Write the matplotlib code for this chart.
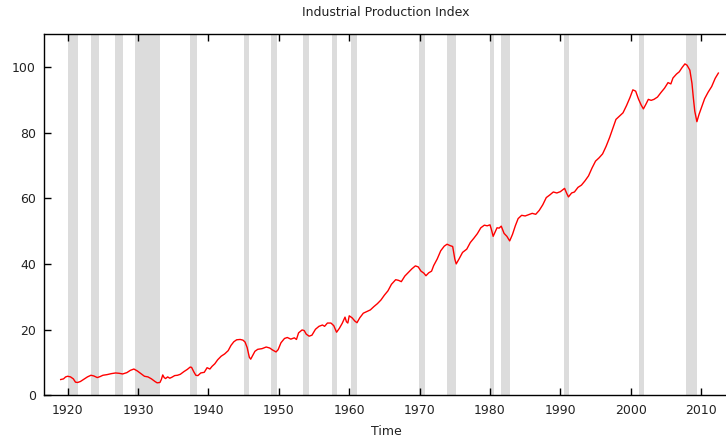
#!/usr/bin/env python3
#
# Industrial Production Index with recession bands

from matplotlib import pyplot as plt

# index values (2007 = 100)
jaar = [1919.0, 1919.4, 1919.7, 1920.0, 1920.4, 1920.8, 1921.1, 1921.4, 1921.8, 1922.3,
        1922.8, 1923.3, 1923.7, 1924.2, 1924.6, 1925.0, 1925.6, 1926.2, 1926.8, 1927.3,
        1927.8, 1928.4, 1928.9, 1929.4, 1929.9, 1930.4, 1930.9, 1931.4, 1931.9, 1932.4,
        1932.7, 1933.1, 1933.3, 1933.5, 1933.7, 1933.9, 1934.2, 1934.5, 1934.8, 1935.2,
        1935.6, 1936.0, 1936.5, 1937.0, 1937.4, 1937.6, 1937.9, 1938.2, 1938.5, 1938.9,
        1939.4, 1939.8, 1940.2, 1940.5, 1940.9, 1941.3, 1941.8, 1942.3, 1942.8, 1943.2,
        1943.6, 1944.0, 1944.5, 1944.9, 1945.2, 1945.5, 1945.8, 1946.0, 1946.2, 1946.6,
        1947.0, 1947.6, 1948.2, 1948.7, 1949.1, 1949.6, 1949.9, 1950.3, 1950.8, 1951.2,
        1951.7, 1952.2, 1952.5, 1952.8, 1953.3, 1953.6, 1953.9, 1954.3, 1954.7, 1955.2,
        1955.7, 1956.2, 1956.5, 1956.9, 1957.4, 1957.8, 1958.2, 1958.6, 1959.0, 1959.4,
        1959.6, 1959.8, 1960.0, 1960.4, 1960.8, 1961.1, 1961.5, 1962.0, 1962.5, 1963.0,
        1963.5, 1964.0, 1964.5, 1965.0, 1965.5, 1966.0, 1966.6, 1967.0, 1967.4, 1967.9,
        1968.4, 1968.9, 1969.4, 1969.8, 1970.2, 1970.6, 1970.9, 1971.3, 1971.7, 1972.0,
        1972.5, 1973.0, 1973.5, 1973.9, 1974.3, 1974.7, 1975.0, 1975.2, 1975.6, 1976.1,
        1976.7, 1977.2, 1977.7, 1978.2, 1978.7, 1979.2, 1979.6, 1980.0, 1980.2, 1980.45,
        1980.7, 1981.0, 1981.3, 1981.6, 1982.0, 1982.4, 1982.8, 1983.2, 1983.6, 1984.0,
        1984.5, 1985.0, 1985.5, 1986.0, 1986.5, 1987.0, 1987.5, 1988.0, 1988.5, 1989.0,
        1989.5, 1990.0, 1990.6, 1990.9, 1991.15, 1991.6, 1992.0, 1992.5, 1993.0, 1993.5,
        1994.0, 1994.5, 1995.0, 1995.5, 1996.0, 1996.5, 1997.0, 1997.5, 1997.9, 1998.4,
        1998.9, 1999.4, 1999.9, 2000.3, 2000.7, 2001.1, 2001.5, 2001.8, 2002.2, 2002.5,
        2002.9, 2003.3, 2003.8, 2004.3, 2004.8, 2005.3, 2005.7, 2006.0, 2006.5, 2006.9,
        2007.3, 2007.7, 2008.0, 2008.4, 2008.7, 2008.9, 2009.1, 2009.4, 2009.7, 2010.0,
        2010.5, 2011.0, 2011.5, 2012.0, 2012.45]

index = [4.8, 5.0, 5.6, 5.8, 5.6, 5.0, 4.0, 3.9, 4.2, 4.9,
         5.6, 6.1, 5.9, 5.4, 5.7, 6.1, 6.3, 6.6, 6.8, 6.7,
         6.5, 6.9, 7.6, 8.0, 7.4, 6.6, 5.8, 5.6, 5.0, 4.2,
         3.8, 3.9, 4.8, 6.2, 5.4, 5.1, 5.6, 5.2, 5.5, 6.0,
         6.1, 6.4, 7.2, 7.9, 8.6, 8.5, 7.2, 6.1, 6.0, 6.8,
         7.0, 8.4, 8.0, 8.8, 9.6, 10.8, 11.9, 12.6, 13.6, 15.2,
         16.3, 16.9, 17.0, 16.8, 16.2, 14.5, 11.6, 11.0, 11.8, 13.4,
         14.0, 14.2, 14.7, 14.4, 13.8, 13.2, 13.9, 16.0, 17.3, 17.6,
         17.1, 17.5, 17.0, 19.0, 19.9, 19.7, 18.6, 18.0, 18.3, 20.1,
         21.0, 21.4, 21.0, 22.0, 22.0, 21.2, 19.2, 20.4, 21.9, 23.8,
         22.4, 22.0, 24.2, 23.6, 22.6, 22.1, 23.6, 25.0, 25.5, 26.0,
         27.0, 27.9, 29.0, 30.5, 31.8, 33.8, 35.2, 35.0, 34.6, 36.3,
         37.4, 38.5, 39.4, 39.1, 37.8, 37.2, 36.4, 37.3, 37.8, 39.5,
         41.5, 44.0, 45.4, 46.0, 45.6, 45.3, 41.5, 40.0, 41.5, 43.5,
         44.5, 46.5, 47.8, 49.2, 51.0, 51.8, 51.6, 51.9, 50.5, 48.4,
         49.6, 51.0, 50.9, 51.5, 49.3, 48.4, 47.0, 49.0, 51.6, 53.8,
         54.8, 54.6, 55.0, 55.4, 55.1, 56.3, 58.0, 60.2, 61.0, 61.9,
         61.6, 62.0, 63.0, 61.5, 60.4, 61.6, 61.9, 63.3, 64.0, 65.3,
         66.8, 69.2, 71.3, 72.3, 73.5, 75.8, 78.5, 81.5, 84.0, 85.0,
         86.0, 88.2, 90.7, 93.0, 92.6, 90.2, 88.3, 87.2, 88.8, 90.1,
         89.8, 90.1, 90.8, 92.2, 93.5, 95.2, 94.8, 96.6, 97.8, 98.5,
         99.8, 100.9, 100.5, 99.0, 95.0, 90.5, 86.5, 83.3, 85.5, 87.3,
         90.3, 92.3, 94.0, 96.5, 98.1]

# recessies (begin, eind)
recessie_begin = [1920.0, 1923.33, 1926.75, 1929.58, 1937.33, 1945.08, 1948.83, 1953.5, 1957.58,
                  1960.25, 1969.92, 1973.83, 1980.0, 1981.5, 1990.5, 2001.17, 2007.92]
recessie_eind = [1921.5, 1924.5, 1927.83, 1933.17, 1938.42, 1945.75, 1949.75, 1954.33, 1958.25,
                 1961.08, 1970.83, 1975.17, 1980.5, 1982.83, 1991.17, 2001.83, 2009.42]

jaartallen = [1920, 1930, 1940, 1950, 1960, 1970, 1980, 1990, 2000, 2010]
waarden = [0, 20, 40, 60, 80, 100]

plt.rcParams['font.family'] = 'DejaVu Sans'
plt.rcParams['font.size'] = 9

fig = plt.figure(figsize=(7.26, 4.41), dpi=100)
ax = fig.add_axes([44.3 / 726, 1 - 395.3 / 441, (727.5 - 44.3) / 726, (395.3 - 34) / 441])

for b, e in zip(recessie_begin, recessie_eind):
    ax.axvspan(b, e, color='#dcdcdc', linewidth=0, zorder=1)

ax.plot(jaar, index, color='#ff0000', linewidth=1.0, zorder=3)

ax.set_xlim(1916.67, 2013.75)
ax.set_ylim(0, 110)
ax.set_xticks(jaartallen)
ax.set_yticks(waarden)
ax.tick_params(direction='in', length=5, width=1, top=True, right=False,
               labelcolor='#222222', pad=6)

for s in ax.spines.values():
    s.set_linewidth(1.0)

ax.set_xlabel('Time', color='#222222', labelpad=6)
ax.set_title('Industrial Production Index', color='#222222', fontsize=9, pad=13)

plt.savefig('out.png', format='png', dpi=100)
